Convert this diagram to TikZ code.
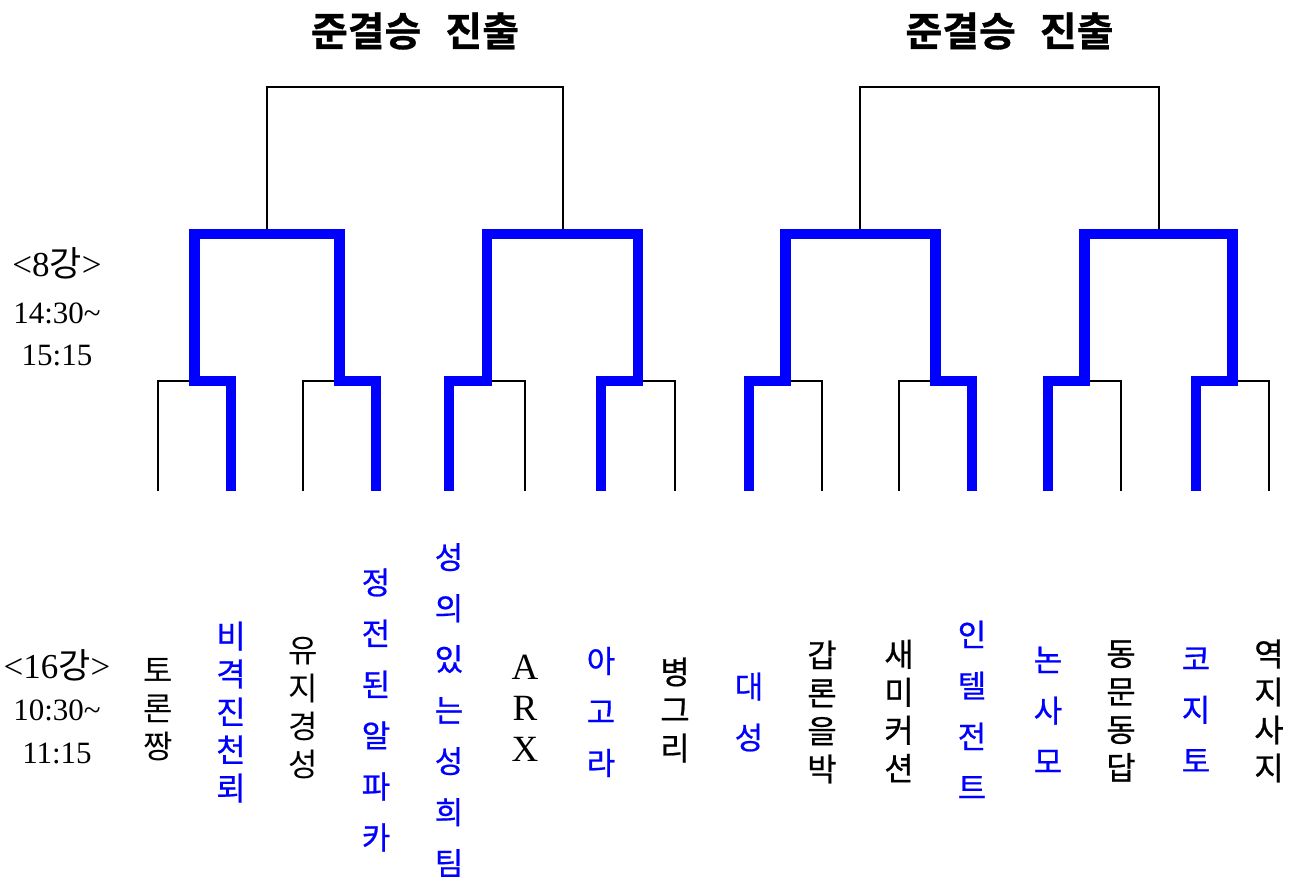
\documentclass[tikz,border=0pt]{standalone}
\usepackage{fontspec}
\setmainfont{Liberation Serif}
\newfontfamily\kr{Noto Sans CJK KR}
\newfontfamily\krm[FakeBold=0.6]{Noto Sans CJK KR}
\newfontfamily\krb[FakeBold=0.8]{Noto Sans CJK KR Bold}
\begin{document}
\begin{tikzpicture}[x=1pt,y=-1pt,
  bracketline/.style={line width=1.3pt,black},
  winline/.style={line width=10.5pt,color=blue,line join=miter},
  team/.style={font=\kr\fontsize{32}{38}\selectfont,align=center,inner sep=0pt},
  teamsb/.style={font=\krm\fontsize{32}{38}\selectfont,align=center,inner sep=0pt},
  teamsp/.style={font=\krm\fontsize{31}{51}\selectfont,align=center,inner sep=0pt,text=blue},
  latin/.style={font=\fontsize{37}{41}\selectfont,align=center,inner sep=0pt},
  titletext/.style={font=\krb\fontsize{40}{42}\selectfont,inner sep=0pt},
  sidelabel/.style={font=\fontsize{35}{36}\selectfont,inner sep=0pt},
  timelabel/.style={font=\fontsize{31}{32}\selectfont,inner sep=0pt}]
\useasboundingbox (0,0) rectangle (1296,886);

% bottom ends of the round-of-16 lines
\foreach \i/\x in {1/158,2/231,3/303,4/376,5/449,6/525,7/601,8/675,
                   9/749,10/822,11/899,12/972,13/1048,14/1121,15/1196,16/1269}
  \coordinate (b\i) at (\x,491);
% round-of-16 joints
\foreach \i/\x in {1/194.5,2/339.5,3/487,4/638,5/785.5,6/935.5,7/1084.5,8/1232.5}
  \coordinate (m\i) at (\x,381);
% quarter-final joints
\foreach \i/\x in {1/267,2/563,3/860,4/1159}
  \coordinate (q\i) at (\x,234);
\coordinate (f1) at (415,87);
\coordinate (f2) at (1009.5,87);

% thin brackets
\foreach \p in {1,...,8}{
  \pgfmathtruncatemacro{\l}{2*\p-1}
  \pgfmathtruncatemacro{\r}{2*\p}
  \draw[bracketline] (b\l) |- (m\p) -| (b\r);
}
\draw[bracketline] (q1) |- (f1) -| (q2);
\draw[bracketline] (q3) |- (f2) -| (q4);

% winners' paths
\draw[winline] (b2) |- (m1) -- (m1 |- q1) -- (m2 |- q1) -- (m2) -| (b4);
\draw[winline] (b5) |- (m3) -- (m3 |- q2) -- (m4 |- q2) -- (m4) -| (b7);
\draw[winline] (b9) |- (m5) -- (m5 |- q3) -- (m6 |- q3) -- (m6) -| (b12);
\draw[winline] (b13) |- (m7) -- (m7 |- q4) -- (m8 |- q4) -- (m8) -| (b15);

% titles
\node[titletext] (s1) at (f1 |- 0,31) {준결승\hspace{0.6em}진출};
\node[titletext] (s2) at (f2 |- 0,31) {준결승\hspace{0.6em}진출};

% side labels
\node[sidelabel] (r8) at (57,263) {<8{\kr 강}>};
\node[timelabel] (r8a) at (57,313) {14:30\textasciitilde};
\node[timelabel] (r8b) at (57,355) {15:15};
\node[sidelabel] (r16) at (57,665) {<16{\kr 강}>};
\node[timelabel] (r16a) at (57,710) {10:30\textasciitilde};
\node[timelabel] (r16b) at (57,753) {11:15};

% teams
\node[team] (t1) at (b1 |- 0,710) {토\\론\\짱};
\node[teamsb,text=blue] (t2) at (b2 |- 0,712) {비\\격\\진\\천\\뢰};
\node[team] (t3) at (b3 |- 0,708) {유\\지\\경\\성};
\node[teamsp] (t4) at (b4 |- 0,710) {정\\전\\된\\알\\파\\카};
\node[teamsp] (t5) at (b5 |- 0,710) {성\\의\\있\\는\\성\\희\\팀};
\node[latin] (t6) at (b6 |- 0,708) {A\\R\\X};
\node[teamsp] (t7) at (b7 |- 0,712) {아\\고\\라};
\node[teamsb] (t8) at (b8 |- 0,710) {병\\그\\리};
\node[teamsp] (t9) at (b9 |- 0,712) {대\\성};
\node[teamsb] (t10) at (b10 |- 0,712) {갑\\론\\을\\박};
\node[teamsb] (t11) at (b11 |- 0,711) {새\\미\\커\\션};
\node[teamsp] (t12) at (b12 |- 0,710) {인\\텔\\전\\트};
\node[teamsp] (t13) at (b13 |- 0,710) {논\\사\\모};
\node[teamsb] (t14) at (b14 |- 0,711) {동\\문\\동\\답};
\node[teamsp] (t15) at (b15 |- 0,710) {코\\지\\토};
\node[teamsb] (t16) at (b16 |- 0,711) {역\\지\\사\\지};
\end{tikzpicture}
\end{document}
